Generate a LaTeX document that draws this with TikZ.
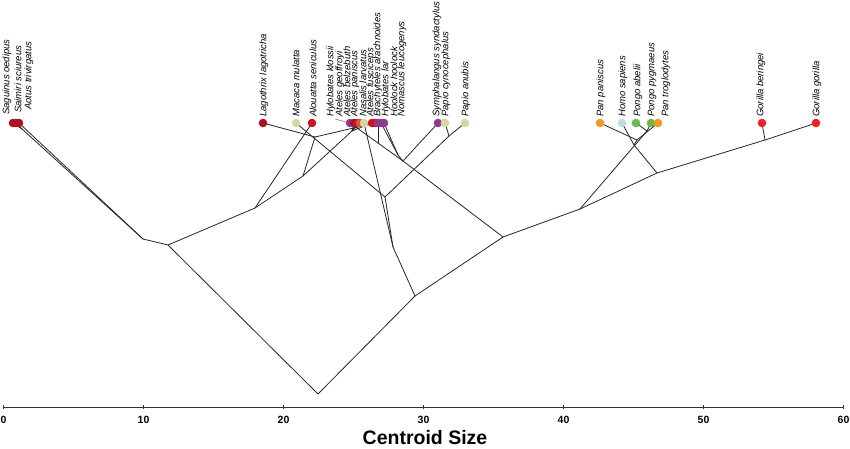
\documentclass[tikz,border=0pt]{standalone}
\usepackage{fontspec}
\setmainfont{Liberation Sans}

\definecolor{nwdark}{HTML}{A8141E}
\definecolor{nwred}{HTML}{C8161F}
\definecolor{nwcrim}{HTML}{B81A3A}
\definecolor{nworange}{HTML}{E0552A}
\definecolor{gored}{HTML}{E8212B}
\definecolor{cercop}{HTML}{D3D8A2}
\definecolor{hylo}{HTML}{8E3B8F}
\definecolor{panor}{HTML}{F2992E}
\definecolor{homob}{HTML}{B9DDE0}
\definecolor{pongog}{HTML}{6BB94A}

\tikzset{
  branch/.style={draw=black!85, line width=0.8pt},
  tipdot/.style={circle, inner sep=0pt, minimum size=8.6pt},
  taxlabel/.style={rotate=90, anchor=west, inner sep=0pt,
    font=\fontsize{9.5}{11}\selectfont\itshape},
  ticklabel/.style={inner sep=0pt, font=\fontsize{10.5}{12}\selectfont\bfseries},
}

\begin{document}
\begin{tikzpicture}[x=1pt,y=-1pt]
\useasboundingbox (0,0) rectangle (850,448);

% tips
\coordinate (sag) at (13,123);
\coordinate (sai) at (16,123);
\coordinate (aot) at (19,123);
\coordinate (lag) at (263,123);
\coordinate (mac) at (296,123);
\coordinate (alo) at (312,123);
\coordinate (klo) at (350,123);
\coordinate (geo) at (354,123);
\coordinate (bel) at (357,123);
\coordinate (apa) at (360,123);
\coordinate (nas) at (364,123);
\coordinate (fus) at (372,123);
\coordinate (bra) at (375,123);
\coordinate (lar) at (378,123);
\coordinate (hoo) at (381,123);
\coordinate (nom) at (384,123);
\coordinate (sym) at (438,123);
\coordinate (pcy) at (445,123);
\coordinate (pan) at (465,123);
\coordinate (ppa) at (600,123);
\coordinate (hom) at (622,123);
\coordinate (pab) at (636,123);
\coordinate (ppy) at (651,123);
\coordinate (ptr) at (658,123);
\coordinate (gbe) at (762,123);
\coordinate (ggo) at (816,123);

% internal nodes
\coordinate (R) at (318,394);
\coordinate (P0) at (168,245);
\coordinate (C1) at (143,239);
\coordinate (C2) at (22,129);
\coordinate (A0) at (255,208);
\coordinate (A1) at (303,176);
\coordinate (A2) at (315,137);
\coordinate (A3) at (352,131);
\coordinate (K) at (415,296);
\coordinate (N1) at (393,247);
\coordinate (N2) at (385,197);
\coordinate (Pp) at (449,136);
\coordinate (H0) at (503,237);
\coordinate (Hy1) at (403,161);
\coordinate (Hy2) at (398,155);
\coordinate (Hy3) at (378,143);
\coordinate (G0) at (580,209);
\coordinate (Pg) at (647,131);
\coordinate (Hm) at (657,173);
\coordinate (HP) at (634,145);
\coordinate (Pn) at (637,140);
\coordinate (Go) at (765,140);

% branches
\draw[branch] (R) -- (P0);
\draw[branch] (R) -- (K);
\draw[branch] (P0) -- (C1);
\draw[branch] (C1) -- (C2);
\draw[branch] (C2) -- (sag);
\draw[branch] (C2) -- (sai);
\draw[branch] (C1) -- (aot);
\draw[branch] (P0) -- (A0);
\draw[branch] (A0) -- (alo);
\draw[branch] (A0) -- (A1);
\draw[branch] (A1) -- (A2);
\draw[branch] (A2) -- (lag);
\draw[branch] (A2) -- (bra);
\draw[branch] (A1) -- (A3);
\foreach \t in {geo,bel,apa,fus}
  \draw[branch] (A3) -- (\t);
\draw[branch] (K) -- (N1);
\draw[branch] (N1) -- (nas);
\draw[branch] (N1) -- (N2);
\draw[branch] (N2) -- (mac);
\draw[branch] (N2) -- (Pp);
\draw[branch] (Pp) -- (pcy);
\draw[branch] (Pp) -- (pan);
\draw[branch] (K) -- (H0);
\draw[branch] (H0) -- (Hy1);
\draw[branch] (Hy1) -- (sym);
\draw[branch] (Hy1) -- (Hy2);
\draw[branch] (Hy2) -- (hoo);
\draw[branch] (Hy2) -- (nom);
\draw[branch] (Hy1) -- (Hy3);
\draw[branch] (Hy3) -- (klo);
\draw[branch] (Hy3) -- (lar);
\draw[branch] (H0) -- (G0);
\draw[branch] (G0) -- (Pg);
\draw[branch] (Pg) -- (pab);
\draw[branch] (Pg) -- (ppy);
\draw[branch] (G0) -- (Hm);
\draw[branch] (Hm) -- (Go);
\draw[branch] (Go) -- (gbe);
\draw[branch] (Go) -- (ggo);
\draw[branch] (Hm) -- (HP);
\draw[branch] (HP) -- (hom);
\draw[branch] (HP) -- (Pn);
\draw[branch] (Pn) -- (ppa);
\draw[branch] (Pn) -- (ptr);

% tip dots
\foreach \t/\c in {sag/nwdark, sai/nwdark, aot/nwdark, lag/nwdark, mac/cercop,
    alo/nwred, klo/hylo, geo/nwdark, bel/nwcrim, apa/nworange, nas/cercop,
    fus/nwred, bra/nwred, lar/hylo, hoo/hylo, nom/hylo, sym/hylo, pcy/cercop,
    pan/cercop, ppa/panor, hom/homob, pab/pongog, ppy/pongog, ptr/panor,
    gbe/gored, ggo/gored}
  \node[tipdot, fill=\c] (d\t) at (\t) {};

% labels
\node[taxlabel] (lsag) at (7,115) {Saguinus oedipus};
\node[taxlabel] (lsai) at (18,113) {Saimiri sciureus};
\node[taxlabel] (laot) at (29,110) {Aotus trivirgatus};
\foreach \x/\name in {264/Lagothrix lagotricha, 296/Macaca mulatta,
    313/Alouatta seniculus, 331/Hylobates klossii, 340/Ateles geoffroyi,
    347/Ateles belzebuth, 355/Ateles paniscus, 363/Nasalis larvatus,
    371/Ateles fusciceps, 378/Brachyteles arachnoides, 386/Hylobates lar,
    394/Hoolock hoolock, 402/Nomascus leucogenys,
    437/Symphalangus syndactylus, 446/Papio cynocephalus, 466/Papio anubis,
    601/Pan paniscus, 623/Homo sapiens, 638/Pongo abelii,
    652/Pongo pygmaeus, 666/Pan troglodytes, 761/Gorilla beringei,
    817/Gorilla gorilla}
  \node[taxlabel] at (\x,117) {\name};
\coordinate (klolead) at (335,119);
\draw[line width=0.4pt, black!70] (klolead) -- (dklo);

% axis
\draw[line width=0.9pt, black!80] (3.5,407) -- (843.5,407);
\foreach \v in {0,10,...,60} {
  \draw[line width=0.9pt, black!80] (3.5+14*\v,405) -- (3.5+14*\v,409);
  \node[ticklabel] at (3.5+14*\v,420) {\v};
}
\node[inner sep=0pt, font=\fontsize{19.5}{22}\selectfont\bfseries] (xlab) at (425,438) {Centroid Size};

\end{tikzpicture}
\end{document}
